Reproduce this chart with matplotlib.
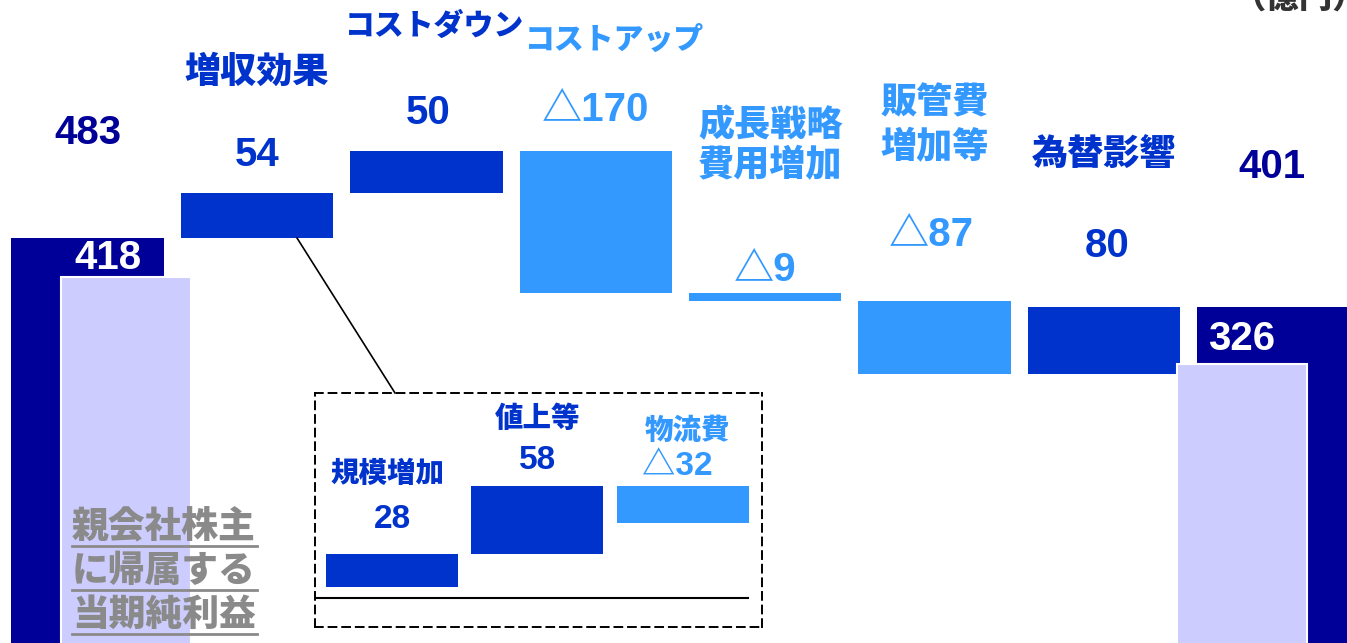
import numpy as np
import matplotlib.pyplot as plt
from matplotlib.lines import Line2D

# 営業利益の増減要因（億円）
start_total = 483
end_total = 401
step_labels = ['増収効果', 'コストダウン', 'コストアップ', '成長戦略\n費用増加', '販管費\n増加等', '為替影響']
step_values = [54, 50, -170, -9, -87, 80]

# 親会社株主に帰属する当期純利益
net_start = 418
net_end = 326

# 増収効果の内訳
inset_labels = ['規模増加', '値上等', '物流費']
inset_values = [28, 58, -32]

NAVY = '#000099'
UP = '#0033CC'
DOWN = '#3399FF'
LAVENDER = '#CCCCFF'
GRAY = '#8A8A8A'

JP = ['Noto Sans CJK JP', 'DejaVu Sans']
NUM = ['Liberation Sans', 'Noto Sans CJK JP', 'DejaVu Sans']
JPW = 'heavy'


def fmt(v):
    return f'{v}' if v >= 0 else f'△{-v}'


W, H = 1347, 643
fig = plt.figure(figsize=(W / 100, H / 100), dpi=100)
ax = fig.add_axes([0, 0, 1, 1])
ax.set_xlim(-0.517, 7.435)
ax.set_ylim(0, 767)
ax.axis('off')

# 段差の計算
levels = np.concatenate([[start_total], start_total + np.cumsum(step_values)])
bottoms = np.minimum(levels[:-1], levels[1:])
heights = np.abs(step_values)
colors = [UP if v > 0 else DOWN for v in step_values]
xs = np.arange(1, len(step_values) + 1)

bw = 0.9
ax.bar(0, start_total, width=bw, color=NAVY)
ax.bar(xs, heights, bottom=bottoms, width=bw, color=colors)
ax.bar(len(step_values) + 1, end_total, width=bw, color=NAVY)

# 純利益は別スケール
ax2 = ax.twinx()
ax2.set_ylim(30.6, 710.4)
ax2.axis('off')
ax2.bar([0.227, 6.815], [net_start, net_end], width=0.77, color=LAVENDER,
        edgecolor='white', linewidth=1.5)

num_size = 29
jp_size = 26

# 合計ラベル
ax.text(0, 608, str(start_total), color=NAVY, fontsize=num_size, fontweight='bold',
        family=NUM, ha='center', va='center')
ax.text(6.99, 568, str(end_total), color=NAVY, fontsize=num_size, fontweight='bold',
        family=NUM, ha='center', va='center')
ax.text(0.12, 459, str(net_start), color='white', fontsize=num_size, fontweight='bold',
        family=NUM, ha='center', va='center')
ax.text(6.81, 363, str(net_end), color='white', fontsize=num_size, fontweight='bold',
        family=NUM, ha='center', va='center')

# 要因ラベル
value_pos = [(1.0, 582), (2.01, 632), (3.0, 636), (4.0, 445), (4.98, 487), (6.02, 473)]
name_pos = [(1.0, 681), (2.05, 737), (3.11, 720), (4.03, 594), (5.0, 618), (6.0, 582)]
name_sizes = [jp_size, 21.5, 21.5, jp_size, jp_size, jp_size]
name_gaps = [0, 0, 0, 48, 54, 0]
for i, v in enumerate(step_values):
    c = colors[i]
    vx, vy = value_pos[i]
    ax.text(vx, vy, fmt(v), color=c, fontsize=num_size, fontweight='bold',
            family=NUM, ha='center', va='center')
    nx, ny = name_pos[i]
    lines = step_labels[i].split('\n')
    gap = name_gaps[i]
    for k, ln in enumerate(lines):
        yy = ny + (len(lines) - 1) * gap / 2 - k * gap
        ax.text(nx, yy, ln, color=c, fontsize=name_sizes[i], fontweight=JPW,
                family=JP, ha='center', va='center')

# 単位
fig.text(1232 / W, 1 + 2 / H, '（億円）', color='#333333', fontsize=24,
         fontweight=JPW, family=JP, ha='left', va='center')

# 純利益の説明
for k, ln in enumerate(['親会社株主', 'に帰属する', '当期純利益']):
    yc = 527 + 44 * k
    fig.text(72 / W, 1 - yc / H, ln, color=GRAY, fontsize=26.5, fontweight=JPW,
             family=JP, ha='left', va='center')
    fig.add_artist(Line2D([72 / W, 257 / W], [1 - (yc + 19) / H] * 2,
                          color=GRAY, linewidth=2, transform=fig.transFigure))

# 内訳パネル
iax = fig.add_axes([315 / W, 16 / H, 447 / W, 234 / H])
iax.set_facecolor('none')
iax.set_xlim(-0.529, 2.543)
iax.set_ylim(-33.9, 164.4)
iax.set_xticks([])
iax.set_yticks([])
for sp in iax.spines.values():
    sp.set_linestyle((0, (4, 3)))
    sp.set_linewidth(1.4)
    sp.set_color('black')

ilev = np.concatenate([[0], np.cumsum(inset_values)])
ibot = np.minimum(ilev[:-1], ilev[1:])
icol = [UP if v > 0 else DOWN for v in inset_values]
ix = np.arange(len(inset_values))
iax.bar(ix, np.abs(inset_values), bottom=ibot, width=0.907, color=icol)
iax.plot([-0.529, 2.447], [-9.3, -9.3], color='black', linewidth=1.5)

inset_name_pos = [(-0.03, 96), (1.0, 143), (2.03, 133)]
inset_val_pos = [(0.0, 57), (1.0, 107), (1.96, 102)]
for i, v in enumerate(inset_values):
    nx, ny = inset_name_pos[i]
    iax.text(nx, ny, inset_labels[i], color=icol[i], fontsize=20.5, fontweight=JPW,
             family=JP, ha='center', va='center')
    vx, vy = inset_val_pos[i]
    iax.text(vx, vy, fmt(v), color=icol[i], fontsize=24, fontweight='bold',
             family=NUM, ha='center', va='center')

# 増収効果から内訳への引き出し線
fig.add_artist(Line2D([297 / W, 395 / W], [1 - 238 / H, 1 - 393 / H],
                      color='black', linewidth=1.2, transform=fig.transFigure))

fig.savefig('out.png', dpi=100)
